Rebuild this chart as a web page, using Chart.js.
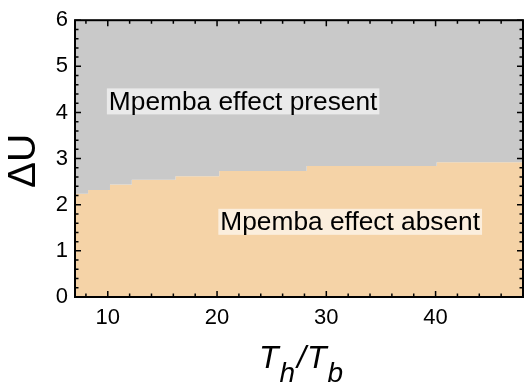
<!DOCTYPE html>
<html>
<head>
  <title>Mpemba phase diagram</title>
  <script src="https://cdn.jsdelivr.net/npm/chart.js"></script>
  <style>
    body { margin: 0; background: #fff; }
  </style>
</head>
<body>
  <canvas id="myChart" width="524" height="385"></canvas>

  <script>
    // boundary between the two regions (step edges)
    const boundaryX = [7, 8.2, 10.2, 12.2, 16.2, 20.2, 28.2, 40.1, 48];
    const boundaryY = [2.24, 2.32, 2.44, 2.54, 2.62, 2.73, 2.84, 2.92, 2.92];

    const xTicks = [10, 20, 30, 40];
    const yTicks = [0, 1, 2, 3, 4, 5, 6];

    const regionLabels = ['Mpemba effect present', 'Mpemba effect absent'];
    const labelX = [10.1, 20.3];
    const labelY = [4.24, 1.63];

    const grayColor = '#c9c9c9';
    const orangeColor = '#f5d3a7';
    const fontFamily = '"Liberation Sans", Arial, sans-serif';

    const points = boundaryX.map((x, i) => ({ x: x, y: boundaryY[i] }));

    // frame with inward ticks on all four sides, region labels and axis titles
    const framePlugin = {
      id: 'frame',
      afterDraw(chart) {
        const ctx = chart.ctx;
        const a = chart.chartArea;
        const xs = chart.scales.x;
        const ys = chart.scales.y;
        ctx.save();

        // region labels with see-through white boxes
        ctx.font = '26.3px ' + fontFamily;
        ctx.textBaseline = 'middle';
        ctx.textAlign = 'left';
        regionLabels.forEach((txt, i) => {
          const px = xs.getPixelForValue(labelX[i]);
          const py = ys.getPixelForValue(labelY[i]);
          const w = ctx.measureText(txt).width;
          ctx.fillStyle = 'rgba(255,255,255,0.62)';
          ctx.fillRect(px - 2, py - 13, w + 4, 26);
          ctx.fillStyle = '#000';
          ctx.fillText(txt, px, py + 1);
        });

        // ticks
        ctx.strokeStyle = '#000';
        ctx.lineWidth = 1.5;
        ctx.beginPath();
        for (let v = 8; v <= 48; v += 2) {
          const px = xs.getPixelForValue(v);
          const len = v % 10 === 0 ? 6 : 3.5;
          ctx.moveTo(px, a.bottom); ctx.lineTo(px, a.bottom - len);
          ctx.moveTo(px, a.top); ctx.lineTo(px, a.top + len);
        }
        for (let k = 0; k <= 30; k++) {
          const py = ys.getPixelForValue(k / 5);
          const len = k % 5 === 0 ? 6 : 3.5;
          ctx.moveTo(a.left, py); ctx.lineTo(a.left + len, py);
          ctx.moveTo(a.right, py); ctx.lineTo(a.right - len, py);
        }
        ctx.stroke();

        // frame
        ctx.lineWidth = 2;
        ctx.strokeRect(a.left, a.top, a.right - a.left, a.bottom - a.top);

        // y title
        ctx.fillStyle = '#000';
        ctx.save();
        ctx.translate(24, 161);
        ctx.rotate(-Math.PI / 2);
        ctx.font = '39px ' + fontFamily;
        ctx.textAlign = 'center';
        ctx.textBaseline = 'middle';
        ctx.fillText('\u0394U', 0, 0);
        ctx.restore();

        // x title: T_h / T_b
        const big = 'italic 32px ' + fontFamily;
        const small = 'italic 28px ' + fontFamily;
        const parts = [['T', big, 0, 1], ['h', small, 14, 2], ['/', big, 0, 1], ['T', big, 0, 1], ['b', small, 14, 0]];
        let total = 0;
        parts.forEach(p => { ctx.font = p[1]; total += ctx.measureText(p[0]).width + p[3]; });
        let cx = 301 - total / 2;
        const base = 368;
        ctx.textAlign = 'left';
        ctx.textBaseline = 'alphabetic';
        parts.forEach(p => {
          ctx.font = p[1];
          ctx.fillText(p[0], cx, base + p[2]);
          cx += ctx.measureText(p[0]).width + p[3];
        });

        ctx.restore();
      }
    };

    const ctx = document.getElementById('myChart').getContext('2d');
    const myChart = new Chart(ctx, {
      type: 'line',
      data: {
        datasets: [{
          label: 'present',
          data: points,
          stepped: true,
          fill: 'end',
          backgroundColor: grayColor,
          borderWidth: 0,
          pointRadius: 0
        }, {
          label: 'absent',
          data: points,
          stepped: true,
          fill: 'origin',
          backgroundColor: orangeColor,
          borderWidth: 0,
          pointRadius: 0
        }]
      },
      options: {
        responsive: false,
        animation: false,
        layout: { padding: { top: 18, right: 1, left: 0, bottom: 0 } },
        plugins: {
          legend: { display: false },
          tooltip: { enabled: false }
        },
        scales: {
          x: {
            type: 'linear',
            min: 7,
            max: 48,
            grid: { display: false, drawTicks: false },
            border: { display: false },
            afterBuildTicks: s => { s.ticks = xTicks.map(v => ({ value: v })); },
            afterFit: s => { s.height = 88; },
            ticks: {
              padding: 8,
              color: '#000',
              maxRotation: 0,
              font: { size: 22, family: fontFamily }
            }
          },
          y: {
            type: 'linear',
            min: 0,
            max: 6,
            grid: { display: false, drawTicks: false },
            border: { display: false },
            afterBuildTicks: s => { s.ticks = yTicks.map(v => ({ value: v })); },
            afterFit: s => { s.width = 75; },
            ticks: {
              padding: 7,
              color: '#000',
              font: { size: 22, family: fontFamily }
            }
          }
        }
      },
      plugins: [framePlugin]
    });
  </script>
</body>
</html>
